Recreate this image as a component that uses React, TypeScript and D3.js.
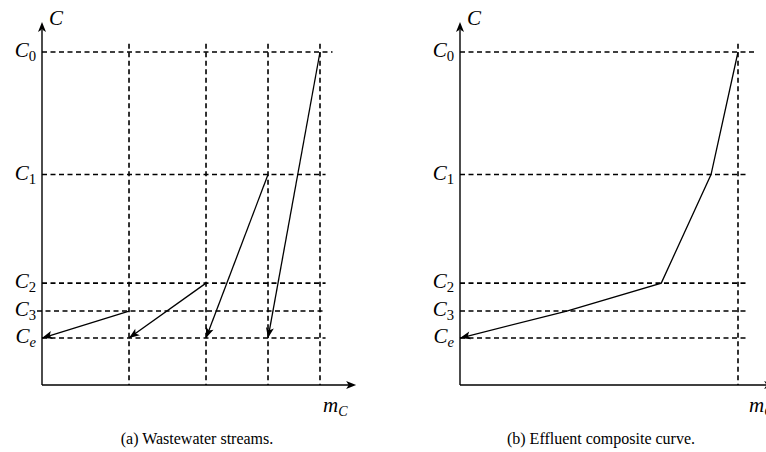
import React from 'react';
import * as d3 from 'd3';

// concentration levels (arbitrary units, 0 = x axis)
const levelNames = ['0', '1', '2', '3', 'e'];
const levelValues = [100, 63.2, 30.6, 22.2, 14.1];

// cumulative mass load at each stream boundary (left panel)
const massBounds = [0, 31.3, 59, 81.3, 100];
// each stream: starts at (massBounds[i+1], levelValues[3-i]) and ends at (massBounds[i], Ce)
const streamStartLevel = [3, 2, 1, 0];

// effluent composite curve points [m, C]
const compositeM = [100, 90.3, 72.4, 38.4, 0];
const compositeC = [100, 63.2, 30.6, 22.2, 14.1];

const captions = ['(a) Wastewater streams.', '(b) Effluent composite curve.'];

const W = 766;
const H = 452;
const FONT = 'Liberation Serif, Times New Roman, DejaVu Serif, serif';

const y = d3.scaleLinear().domain([0, 100]).range([385, 52]);

const Label: React.FC<{ x: number; y: number; sub: string; size?: number; subItalic?: boolean }> = ({ x, y, sub, size = 21, subItalic = false }) => (
  <text x={x} y={y} textAnchor="end" style={{ fontFamily: FONT, fontSize: size }}>
    <tspan fontStyle="italic">C</tspan>
    <tspan style={{ fontSize: size * 0.7, fontStyle: subItalic ? 'italic' : 'normal' }} dy={4}>{sub}</tspan>
  </text>
);

const Panel: React.FC<{ x0: number; composite: boolean; caption: string; cx: number; mOffset: number }> = ({ x0, composite, caption, cx, mOffset }) => {
  const x = d3.scaleLinear().domain([0, 100]).range([x0, x0 + 278]);
  const dash = '5,3.5';
  const line = d3.line<[number, number]>().x(d => x(d[0])).y(d => y(d[1]));
  const verticals = composite ? [100] : massBounds.slice(1);
  const hEnd = [104.5, 102, 102, 102, 102];

  return (
    <g>
      {/* dashed grid */}
      {levelValues.map((c, i) => (
        <line key={'h' + i} x1={i === 3 && !composite ? x0 - 5 : x0} x2={x(hEnd[i] + (composite ? 1.5 : 0))}
          y1={y(c)} y2={y(c)} stroke="#000" strokeWidth={1.6} strokeDasharray={dash} />
      ))}
      {verticals.map((m, i) => (
        <line key={'v' + i} x1={x(m)} x2={x(m)} y1={y(102.5)} y2={y(0)}
          stroke="#000" strokeWidth={1.6} strokeDasharray={dash} />
      ))}

      {/* axes */}
      <line x1={x0} x2={x0} y1={y(0)} y2={30} stroke="#000" strokeWidth={1.4} />
      <path d={`M${x0},22 L${x0 - 4},32 L${x0},29.5 L${x0 + 4},32 Z`} fill="#000" />
      <line x1={x0} x2={x(113) - 7} y1={y(0)} y2={y(0)} stroke="#000" strokeWidth={1.4} />
      <path d={`M${x(113)},${y(0)} L${x(113) - 10},${y(0) - 4} L${x(113) - 7.5},${y(0)} L${x(113) - 10},${y(0) + 4} Z`} fill="#000" />

      {/* streams / composite */}
      {composite ? (
        <path d={line(compositeM.map((m, i) => [m, compositeC[i]] as [number, number])) || ''}
          fill="none" stroke="#000" strokeWidth={1.3} markerEnd="url(#arr)" />
      ) : (
        streamStartLevel.map((lv, i) => (
          <path key={'s' + i}
            d={line([[massBounds[i + 1], levelValues[lv]], [massBounds[i], levelValues[4]]]) || ''}
            fill="none" stroke="#000" strokeWidth={1.3} markerEnd="url(#arr)" />
        ))
      )}

      {/* labels */}
      {levelNames.map((n, i) => (
        <Label key={'l' + i} x={x0 - 6} y={y(levelValues[i]) + 5} sub={n} subItalic={n === 'e'} />
      ))}
      <text x={x0 + 7} y={25} style={{ fontFamily: FONT, fontSize: 21, fontStyle: 'italic' }}>C</text>
      <text x={x0 + mOffset} y={412} style={{ fontFamily: FONT, fontSize: 21 }}>
        <tspan fontStyle="italic">m</tspan>
        <tspan style={{ fontStyle: 'italic', fontSize: 14 }} dy={4}>C</tspan>
      </text>
      <text x={cx} y={444} textAnchor="middle" style={{ fontFamily: FONT, fontSize: 16 }}>{caption}</text>
    </g>
  );
};

const App: React.FC = () => (
  <svg width={W} height={H} style={{ position: 'absolute', left: 0, top: 0, background: '#fff' }}>
    <defs>
      <marker id="arr" viewBox="-11 -5 12 10" refX={0} refY={0} markerWidth={12} markerHeight={10}
        markerUnits="userSpaceOnUse" orient="auto">
        <path d="M0,0 L-10.5,-4 L-8,0 L-10.5,4 Z" fill="#000" />
      </marker>
    </defs>
    <rect width={W} height={H} fill="#fff" />
    <Panel x0={42} composite={false} caption={captions[0]} cx={197} mOffset={281} />
    <Panel x0={460} composite={true} caption={captions[1]} cx={601} mOffset={289} />
  </svg>
);

export default App;
